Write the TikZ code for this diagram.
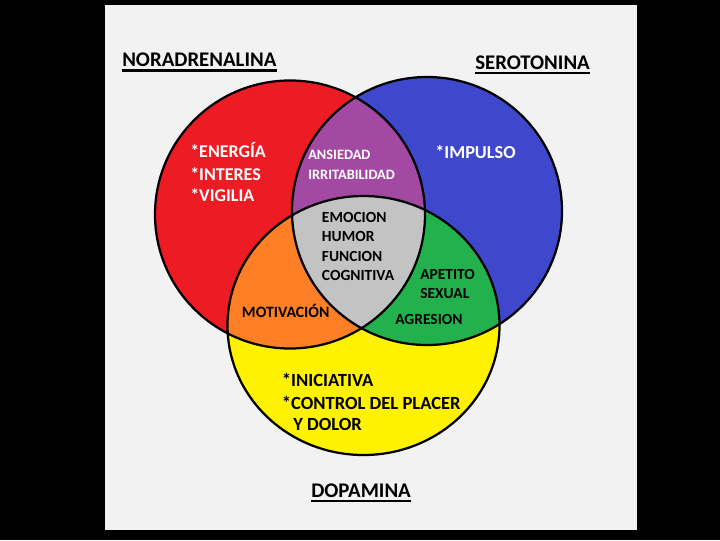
\documentclass[tikz,border=0pt]{standalone}
\usepackage{fontspec}
\setmainfont{Carlito}
\usetikzlibrary{calc}
\definecolor{cred}{HTML}{ED1C24}
\definecolor{cblue}{HTML}{3F48CC}
\definecolor{cyellow}{HTML}{FFF200}
\definecolor{cpurple}{HTML}{A349A4}
\definecolor{corange}{HTML}{FF7F27}
\definecolor{cgreen}{HTML}{22B14C}
\definecolor{cgrey}{HTML}{C3C3C3}
\definecolor{bgw}{HTML}{F2F2F2}
\begin{document}
\begin{tikzpicture}[x=0.025cm,y=-0.025cm,
  lbl/.style={inner sep=0,anchor=base west,font=\bfseries\fontsize{#1}{#1}\selectfont},
  wlbl/.style={lbl=#1,text=white},
  ring/.style={draw=black,line width=1.6pt},
  uline/.style={line width=1.5pt}]
\fill[black] (0,0) rectangle (720,540);
\fill[bgw] (105,5) rectangle (637,530);
\path[use as bounding box] (0,0) rectangle (720,540);
\def\redc{(290,214.5) ellipse [x radius=135, y radius=134]}
\def\bluec{(427,211) ellipse [x radius=135, y radius=134]}
\def\yelc{(363.5,325.5) ellipse [x radius=136, y radius=129.5]}
% base colours
\fill[cred] \redc;
\fill[cblue] \bluec;
\fill[cyellow] \yelc;
% pairwise overlaps
\begin{scope}\clip \redc; \fill[cpurple] \bluec; \fill[corange] \yelc; \end{scope}
\begin{scope}\clip \bluec; \fill[cgreen] \yelc; \end{scope}
\begin{scope}\clip \redc; \clip \bluec; \fill[cgrey] \yelc; \end{scope}
% outlines
\draw[ring] \redc;
\draw[ring] \bluec;
\draw[ring] \yelc;
% titles
\node[lbl=14.8] (nor) at (122,66.7) {NORADRENALINA};
\node[lbl=14.8] (ser) at (475,69) {SEROTONINA};
\node[lbl=14.8] (dop) at (311,497) {DOPAMINA};
\draw[uline] ($(nor.base west)+(0,3.8)$) -- ($(nor.base east)+(0,3.8)$);
\draw[uline] ($(ser.base west)+(0,3.8)$) -- ($(ser.base east)+(0,3.8)$);
\draw[uline] ($(dop.base west)+(0,3.8)$) -- ($(dop.base east)+(0,3.8)$);
% red region
\node[wlbl=12.8] (r1) at (190,157.7) {*ENERGÍA};
\node[wlbl=12.8] (r2) at (190,180) {*INTERES};
\node[wlbl=12.8] (r3) at (190,201.7) {*VIGILIA};
% purple region
\node[wlbl=10.2] (p1) at (308,159) {ANSIEDAD};
\node[wlbl=10.2] (p2) at (308,179) {IRRITABILIDAD};
% blue region
\node[wlbl=13] (b1) at (435,158) {*IMPULSO};
% grey region
\node[lbl=11] (g1) at (321.7,222.7) {EMOCION};
\node[lbl=11] (g2) at (321.7,241.7) {HUMOR};
\node[lbl=11] (g3) at (321.7,261) {FUNCION};
\node[lbl=11] (g4) at (321.7,280) {COGNITIVA};
% green region
\node[lbl=11] (e1) at (420,279) {APETITO};
\node[lbl=11] (e2) at (420,298) {SEXUAL};
\node[lbl=11] (e3) at (395,324) {AGRESION};
% orange region
\node[lbl=11.2] (o1) at (241.7,317.7) {MOTIVACIÓN};
% yellow region
\node[lbl=13.2] (y1) at (281.7,386) {*INICIATIVA};
\node[lbl=13.2] (y2) at (281.7,409) {*CONTROL DEL PLACER};
\node[lbl=13.2] (y3) at (293,430.7) {Y DOLOR};
\end{tikzpicture}
\end{document}
